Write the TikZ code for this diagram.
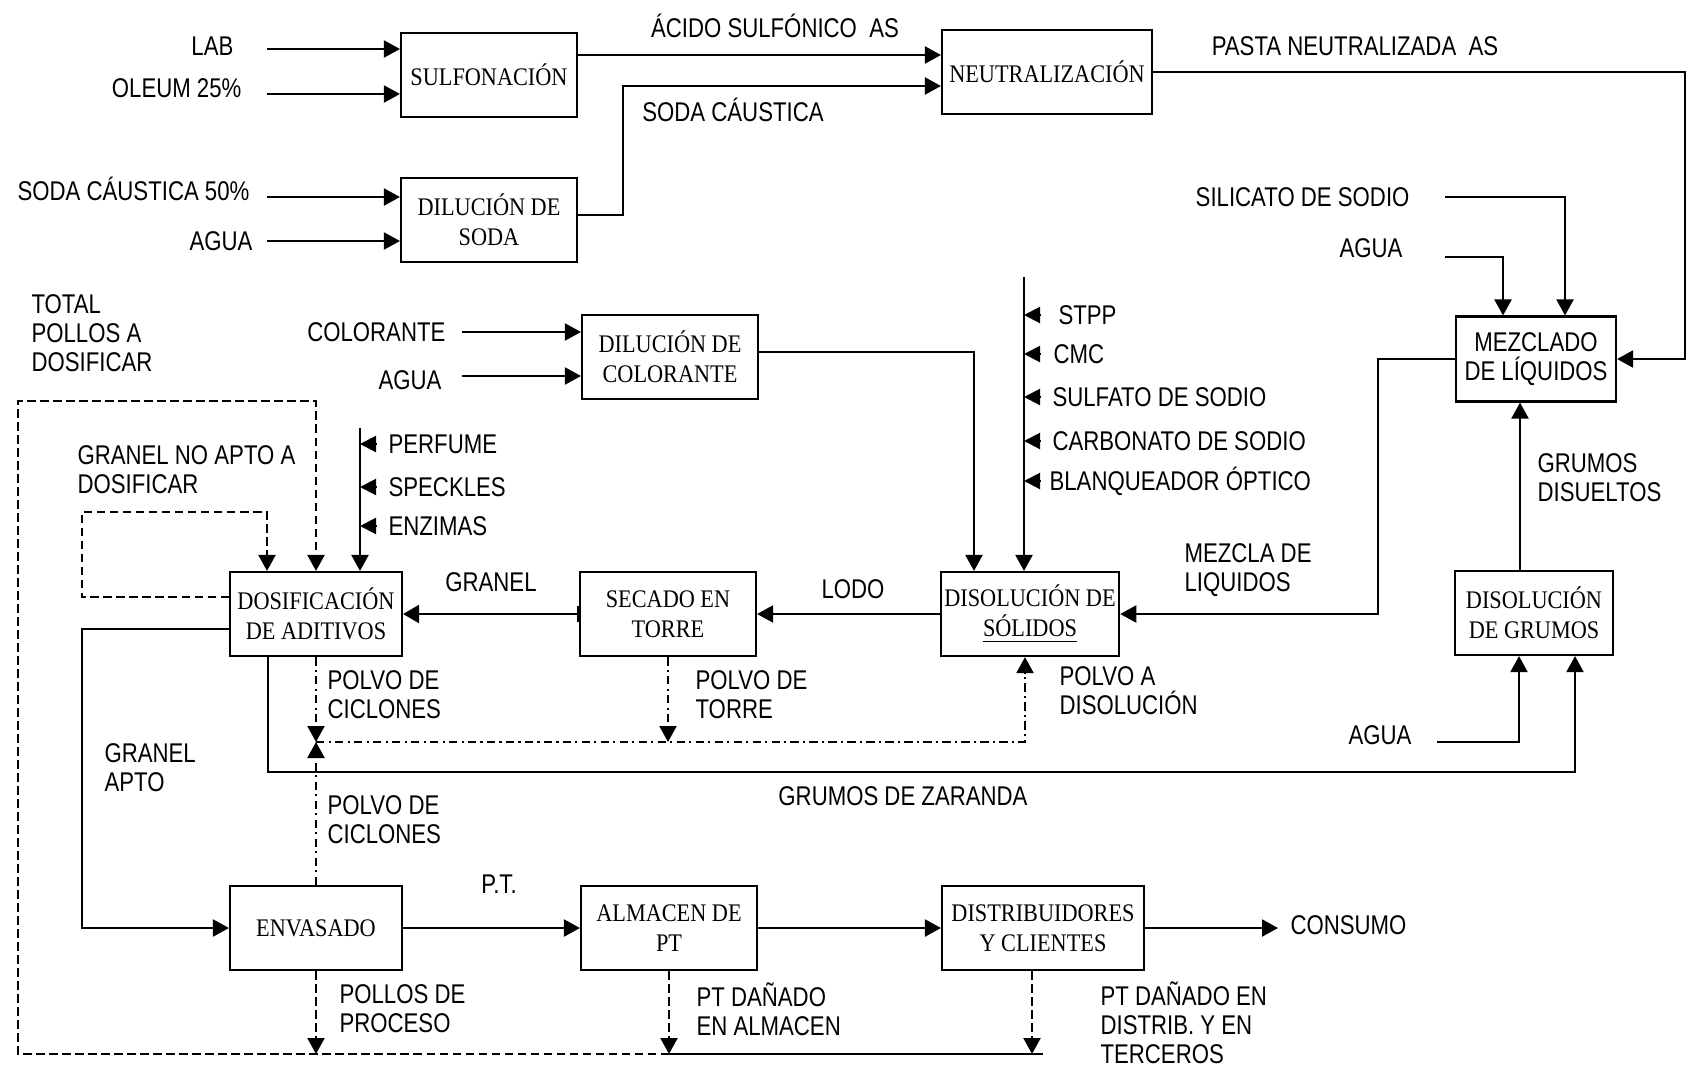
\documentclass[tikz,border=0pt]{standalone}
\usepackage{fontspec}
\setmainfont{Liberation Serif}[FakeStretch=0.88]
\setsansfont{Liberation Sans}[FakeStretch=0.82]
\usepackage{tikz}
\usetikzlibrary{arrows.meta,positioning,calc}

\begin{document}
\begin{tikzpicture}[
    line width=0.6pt,
    box/.style={rectangle, draw, minimum width=1.76cm, minimum height=0.84cm, align=center, inner sep=1pt, font=\fontsize{7.2}{8.6}\selectfont},
    sbox/.style={box, font=\sffamily\fontsize{7.7}{8.4}\selectfont},
    lbl/.style={font=\sffamily\fontsize{7.7}{8.2}\selectfont, inner sep=1pt, align=left},
    arr/.style={-{Triangle[length=1.6mm,width=1.7mm]}},
    feed/.style={-{Triangle[length=1.6mm,width=1.6mm]}},
    dsh/.style={dash pattern=on 2.4pt off 1.3pt},
    dd/.style={dash pattern=on 2.4pt off 1.2pt on 0.6pt off 1.2pt}
  ]
    \useasboundingbox (0,0) rectangle (16.86,-10.65);

    % process boxes
    \node[box] (sulf) at (4.89,-0.75) {SULFONACIÓN};
    \node[box] (dsoda) at (4.89,-2.20) {DILUCIÓN DE\\SODA};
    \node[box, minimum width=2.10cm] (neut) at (10.47,-0.72) {NEUTRALIZACIÓN};
    \node[sbox, minimum width=1.60cm, minimum height=0.85cm] (mezc) at (15.36,-3.59) {MEZCLADO\\DE LÍQUIDOS};
    \node[box] (dcol) at (6.70,-3.57) {DILUCIÓN DE\\COLORANTE};
    \node[box] (dsol) at (10.30,-6.14) {DISOLUCIÓN DE\\\underline{SÓLIDOS}};
    \node[box] (secado) at (6.68,-6.14) {SECADO EN\\TORRE};
    \node[box, minimum width=1.72cm] (dosif) at (3.16,-6.14) {DOSIFICACIÓN\\DE ADITIVOS};
    \node[box, minimum width=1.58cm] (dgrum) at (15.34,-6.13) {DISOLUCIÓN\\DE GRUMOS};
    \node[box, minimum width=1.72cm] (envas) at (3.16,-9.28) {ENVASADO};
    \node[box] (almac) at (6.69,-9.28) {ALMACEN DE\\PT};
    \node[box, minimum width=2.02cm] (distr) at (10.43,-9.28) {DISTRIBUIDORES\\Y CLIENTES};

    % sulfonation and soda
    \coordinate (labin) at (2.67,-0.49);
    \coordinate (oleumin) at (2.67,-0.94);
    \coordinate (sodain) at (2.67,-1.97);
    \coordinate (aguasin) at (2.67,-2.41);
    \node[lbl, left=0.29 of labin, yshift=0.03cm] (lab) {LAB};
    \node[lbl, left=0.21 of oleumin, yshift=0.06cm] (oleum) {OLEUM 25\%};
    \node[lbl, left=0.13 of sodain, yshift=0.08cm] (soda50) {SODA CÁUSTICA 50\%};
    \node[lbl, left=0.10 of aguasin] (aguas) {AGUA};
    \draw[arr] (labin) -- (labin -| sulf.west);
    \draw[arr] (oleumin) -- (oleumin -| sulf.west);
    \draw[arr] (sodain) -- (sodain -| dsoda.west);
    \draw[arr] (aguasin) -- (aguasin -| dsoda.west);

    % neutralization
    \draw[arr] ([yshift=0.20cm]sulf.east) -- ([yshift=0.20cm]sulf.east -| neut.west);
    \node[lbl] (acido) at (7.75,-0.26) {ÁCIDO SULFÓNICO\ \ AS};
    \draw[arr] ([yshift=0.05cm]dsoda.east) -- ++(0.45,0) |- ([yshift=-0.14cm]neut.west);
    \node[lbl] (sodac) at (7.33,-1.10) {SODA CÁUSTICA};
    \draw[arr] (neut.east) -- ++(5.32,0) |- (mezc.east);
    \node[lbl] (pasta) at (13.55,-0.46) {PASTA NEUTRALIZADA\ \ AS};

    % liquid mixing
    \coordinate (silin) at (14.45,-1.97);
    \coordinate (aguamin) at (14.45,-2.57);
    \node[lbl, left=0.31 of silin] (silic) {SILICATO DE SODIO};
    \node[lbl, left=0.38 of aguamin, yshift=0.09cm] (aguam) {AGUA};
    \draw[arr] (silin) -| ([xshift=0.29cm]mezc.north);
    \draw[arr] (aguamin) -| ([xshift=-0.33cm]mezc.north);
    \draw[arr] (mezc.west) -- ++(-0.77,0) |- (dsol.east);
    \node[lbl, anchor=west] (mezcla) at (11.80,-5.70) {MEZCLA DE\\LIQUIDOS};

    % clumps
    \draw[arr] ([xshift=-0.14cm]dgrum.north) -- ([xshift=-0.14cm]dgrum.north |- mezc.south);
    \node[lbl, anchor=west] (grumd) at (15.33,-4.78) {GRUMOS\\DISUELTOS};
    \coordinate (aguagin) at (14.37,-7.42);
    \node[lbl, left=0.21 of aguagin, yshift=0.07cm] (aguag) {AGUA};
    \draw[arr] (aguagin) -| ([xshift=-0.15cm]dgrum.south);
    \draw[arr] ([xshift=-0.48cm]dosif.south) -- ++(0,-1.15) -| ([xshift=0.41cm]dgrum.south);
    \node[lbl] (zaranda) at (9.03,-7.96) {GRUMOS DE ZARANDA};

    % solids to dissolve
    \coordinate (soltop) at (10.24,-2.77);
    \draw[arr] (soltop) -- (soltop |- dsol.north);
    \node[lbl, anchor=west] (stpp) at (10.54,-3.15) {STPP};
    \node[lbl, anchor=west] (cmc) at (10.49,-3.54) {CMC};
    \node[lbl, anchor=west] (sulfato) at (10.48,-3.97) {SULFATO DE SODIO};
    \node[lbl, anchor=west] (carbon) at (10.48,-4.41) {CARBONATO DE SODIO};
    \node[lbl, anchor=west] (blanq) at (10.45,-4.81) {BLANQUEADOR ÓPTICO};
    \draw[feed] ([xshift=0.17cm]stpp.west -| soltop) -- (stpp.west -| soltop);
    \draw[feed] ([xshift=0.17cm]cmc.west -| soltop) -- (cmc.west -| soltop);
    \draw[feed] ([xshift=0.17cm]sulfato.west -| soltop) -- (sulfato.west -| soltop);
    \draw[feed] ([xshift=0.17cm]carbon.west -| soltop) -- (carbon.west -| soltop);
    \draw[feed] ([xshift=0.17cm]blanq.west -| soltop) -- (blanq.west -| soltop);

    % colorant
    \coordinate (colin) at (4.62,-3.32);
    \coordinate (aguacin) at (4.62,-3.76);
    \node[lbl, left=0.12 of colin] (color) {COLORANTE};
    \node[lbl, left=0.16 of aguacin, yshift=-0.04cm] (aguac) {AGUA};
    \draw[arr] (colin) -- (colin -| dcol.west);
    \draw[arr] (aguacin) -- (aguacin -| dcol.west);
    \draw[arr] ([yshift=0.05cm]dcol.east) -| ([xshift=-0.56cm]dsol.north);

    % drying tower
    \draw[arr] (dsol.west) -- (secado.east);
    \node[lbl] (lodo) at (8.53,-5.89) {LODO};
    \draw[{Bar[width=1.6mm]}-{Triangle[length=1.6mm,width=1.8mm]}] (secado.west) -- (dosif.east);
    \node[lbl] (granel) at (4.91,-5.82) {GRANEL};

    % additives
    \coordinate (adtop) at (3.60,-4.28);
    \draw[arr] (adtop) -- (adtop |- dosif.north);
    \node[lbl, anchor=west] (perf) at (3.84,-4.44) {PERFUME};
    \node[lbl, anchor=west] (speck) at (3.84,-4.87) {SPECKLES};
    \node[lbl, anchor=west] (enzim) at (3.84,-5.26) {ENZIMAS};
    \draw[feed] ([xshift=0.17cm]perf.west -| adtop) -- (perf.west -| adtop);
    \draw[feed] ([xshift=0.17cm]speck.west -| adtop) -- (speck.west -| adtop);
    \draw[feed] ([xshift=0.17cm]enzim.west -| adtop) -- (enzim.west -| adtop);

    % granel loops
    \draw[arr, dsh] ([yshift=0.17cm]dosif.west) -- ++(-1.47,0) -- ++(0,0.85) -| ([xshift=-0.49cm]dosif.north);
    \node[lbl, anchor=west] (noapto) at (0.73,-4.70) {GRANEL NO APTO A\\DOSIFICAR};
    \draw[arr] ([yshift=-0.15cm]dosif.west) -- ++(-1.47,0) |- (envas.west);
    \node[lbl, anchor=west] (apto) at (1.00,-7.68) {GRANEL\\APTO};

    % finished product
    \draw[arr] (envas.east) -- (almac.west);
    \node[lbl] (pt) at (4.99,-8.84) {P.T.};
    \draw[arr] (almac.east) -- (distr.west);
    \node[lbl, anchor=west] (consumo) at (12.86,-9.25) {CONSUMO};
    \draw[arr, shorten >=0.08cm] (distr.east) -- (distr.east -| consumo.west);

    % dust
    \coordinate (pjoin) at (3.16,-7.42);
    \draw[arr, dd] (dosif.south) -- (pjoin);
    \draw[arr, dd] (envas.north) -- (pjoin);
    \draw[arr, dd] (secado.south) -- (secado.south |- pjoin);
    \draw[arr, dd] (pjoin) -| ([xshift=-0.05cm]dsol.south);
    \node[lbl, anchor=west] (ciclon1) at (3.23,-6.95) {POLVO DE\\CICLONES};
    \node[lbl, anchor=west] (torre) at (6.91,-6.95) {POLVO DE\\TORRE};
    \node[lbl, anchor=west] (adisol) at (10.55,-6.91) {POLVO A\\DISOLUCIÓN};
    \node[lbl, anchor=west] (ciclon2) at (3.23,-8.20) {POLVO DE\\CICLONES};

    % rejects back to dosing
    \coordinate (pbot) at (0.18,-10.54);
    \draw[arr, dsh] (envas.south) -- (envas.south |- pbot);
    \draw[arr, dsh] (almac.south) -- (almac.south |- pbot);
    \draw[arr, dsh] ([xshift=-0.11cm]distr.south) -- ([xshift=-0.11cm]distr.south |- pbot);
    \draw (distr.south |- pbot) -- (almac.south |- pbot);
    \draw[arr, dsh] (almac.south |- pbot) -- (pbot) -- ++(0,6.53) -| (dosif.north);
    \node[lbl, anchor=west] (total) at (0.27,-3.33) {TOTAL\\POLLOS A\\DOSIFICAR};
    \node[lbl, anchor=west] (pollos) at (3.35,-10.09) {POLLOS DE\\PROCESO};
    \node[lbl, anchor=west] (danalm) at (6.92,-10.09) {PT DAÑADO\\EN ALMACEN};
    \node[lbl, anchor=west] (dandis) at (10.96,-10.23) {PT DAÑADO EN\\DISTRIB. Y EN\\TERCEROS};
  \end{tikzpicture}
\end{document}
